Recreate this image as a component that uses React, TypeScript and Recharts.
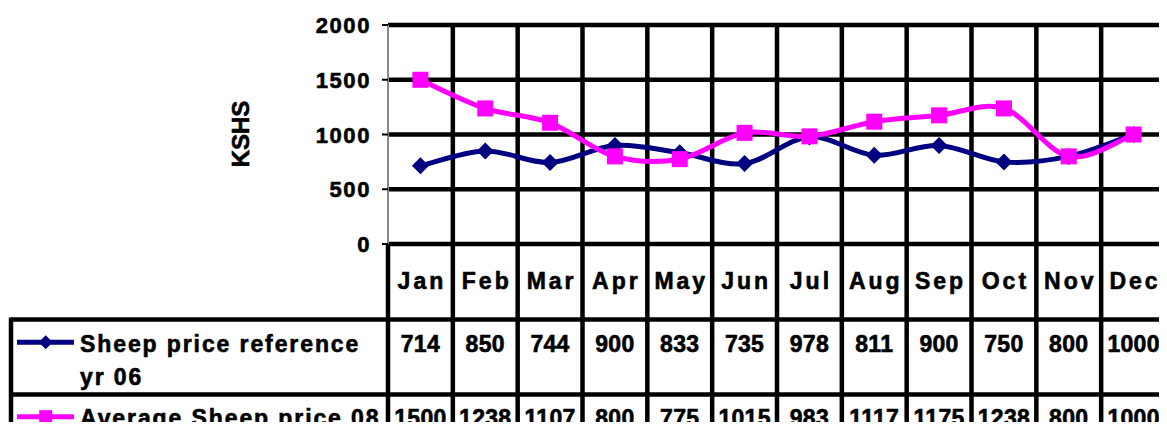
import React from "react";
import { LineChart, Line, XAxis, YAxis, CartesianGrid } from "recharts";

const months = ["Jan", "Feb", "Mar", "Apr", "May", "Jun", "Jul", "Aug", "Sep", "Oct", "Nov", "Dec"];
const sheepRef06 = [714, 850, 744, 900, 833, 735, 978, 811, 900, 750, 800, 1000];
const sheepAvg08 = [1500, 1238, 1107, 800, 775, 1015, 983, 1117, 1175, 1238, 800, 1000];
const yTicks = [0, 500, 1000, 1500, 2000];
const refNameLines = ["Sheep price reference", "yr 06"];
const avgName = "Average Sheep price 08";

const NAVY = "#000080";
const PINK = "#FF00FF";
const FONT = '"Liberation Sans", Arial, sans-serif';

const CHART_W = 1167;
const CHART_H = 430;
const Y_AXIS_W = 388;
const MARGIN_R = 1;
const PLOT_W = CHART_W - Y_AXIS_W - MARGIN_R;
const RULE = 4.5;

const data = months.map((m, i) => ({
  month: m,
  slot: i + 0.5,
  ref06: sheepRef06[i],
  avg08: sheepAvg08[i],
}));

// Excel-style smoothed line (Catmull-Rom through the points)
function excelCurve(context: any) {
  let pts: number[][] = [];
  return {
    areaStart() {},
    areaEnd() {},
    lineStart() {
      pts = [];
    },
    point(x: number, y: number) {
      pts.push([+x, +y]);
    },
    lineEnd() {
      if (!pts.length) return;
      context.moveTo(pts[0][0], pts[0][1]);
      for (let i = 0; i < pts.length - 1; i++) {
        const p0 = pts[i - 1] || pts[i];
        const p1 = pts[i];
        const p2 = pts[i + 1];
        const p3 = pts[i + 2] || p2;
        context.bezierCurveTo(
          p1[0] + (p2[0] - p0[0]) / 6,
          p1[1] + (p2[1] - p0[1]) / 6,
          p2[0] - (p3[0] - p1[0]) / 6,
          p2[1] - (p3[1] - p1[1]) / 6,
          p2[0],
          p2[1]
        );
      }
    },
  };
}

function Diamond({ cx, cy, r = 8.5 }: { cx: number; cy: number; r?: number }) {
  return <polygon points={`${cx},${cy - r} ${cx + r},${cy} ${cx},${cy + r} ${cx - r},${cy}`} fill={NAVY} />;
}

function Square({ cx, cy, s = 16 }: { cx: number; cy: number; s?: number }) {
  return <rect x={cx - s / 2} y={cy - s / 2} width={s} height={s} fill={PINK} />;
}

const renderDiamond = (p: any) => <Diamond key={`d-${p.index}`} cx={p.cx} cy={p.cy} />;
const renderSquare = (p: any) => <Square key={`s-${p.index}`} cx={p.cx} cy={p.cy} />;

// heavy Excel-like bold text
const textStyle = { fontFamily: FONT, fontWeight: 700 as const, fill: "#000", stroke: "#000", strokeWidth: 0.6 };

function YTick({ x, y, payload }: any) {
  return (
    <text x={x} y={y} dy={8} textAnchor="end" fontSize={22} style={{ ...textStyle, letterSpacing: 1.6 }}>
      {payload.value}
    </text>
  );
}

function LegendColumn({ left, y }: { left: number; y: number }) {
  const x0 = 11;
  return (
    <g>
      <line x1={x0} x2={left} y1={y + 75.5} y2={y + 75.5} stroke="#000" strokeWidth={RULE} />
      <line x1={x0} x2={left} y1={y + 150.5} y2={y + 150.5} stroke="#000" strokeWidth={RULE} />
      <line x1={x0} x2={x0} y1={y + 73.5} y2={y + 200} stroke="#000" strokeWidth={RULE} />
      <line x1={17} x2={74} y1={y + 98.3} y2={y + 98.3} stroke={NAVY} strokeWidth={5} />
      <Diamond cx={45.7} cy={y + 98.3} r={7} />
      <text x={80} y={y + 108} fontSize={23} style={{ ...textStyle, letterSpacing: 1.9 }}>
        {refNameLines[0]}
      </text>
      <text x={80} y={y + 141} fontSize={23} style={{ ...textStyle, letterSpacing: 1.9 }}>
        {refNameLines[1]}
      </text>
      <line x1={17} x2={74} y1={y + 172.7} y2={y + 172.7} stroke={PINK} strokeWidth={5} />
      <Square cx={45.7} cy={y + 172.7} s={13} />
      <text x={80} y={y + 181.5} fontSize={23} style={{ ...textStyle, letterSpacing: 1.9 }}>
        {avgName}
      </text>
      <text
        x={249}
        y={134}
        fontSize={24}
        textAnchor="middle"
        transform="rotate(-90 249 134)"
        style={textStyle}
      >
        KSHS
      </text>
    </g>
  );
}

function TableTick(props: any) {
  const { x, y, payload, width } = props;
  const i = Math.floor(payload.value);
  const colW = (typeof width === "number" && width > 0 ? width : PLOT_W) / months.length;
  const left = x - colW / 2;
  const right = x + colW / 2;
  const last = i === months.length - 1;
  return (
    <g>
      <line x1={left} x2={left} y1={y} y2={y + 200} stroke="#000" strokeWidth={RULE} />
      {last && <line x1={right - 1} x2={right - 1} y1={y} y2={y + 200} stroke="#888" strokeWidth={1.5} />}
      <line x1={left} x2={right} y1={y + 75.5} y2={y + 75.5} stroke="#000" strokeWidth={RULE} />
      <line x1={left} x2={right} y1={y + 150.5} y2={y + 150.5} stroke="#000" strokeWidth={RULE} />
      <text x={x + 1.5} y={y + 45} textAnchor="middle" fontSize={23} style={{ ...textStyle, letterSpacing: 3 }}>
        {months[i]}
      </text>
      <text x={x} y={y + 108} textAnchor="middle" fontSize={23} style={{ ...textStyle, letterSpacing: 0.3 }}>
        {sheepRef06[i]}
      </text>
      <text x={x} y={y + 181.5} textAnchor="middle" fontSize={23} style={{ ...textStyle, letterSpacing: 0.3 }}>
        {sheepAvg08[i]}
      </text>
      {i === 0 && <LegendColumn left={left} y={y} />}
    </g>
  );
}

export default function App() {
  const slots = data.map((d) => d.slot);
  const boundaries = months.slice(1).map((_, i) => i + 1);
  return (
    <div style={{ margin: -8, width: CHART_W, height: CHART_H, background: "#fff" }}>
      <LineChart width={CHART_W} height={CHART_H} data={data} margin={{ top: 25, right: MARGIN_R, bottom: 0, left: 0 }}>
        <CartesianGrid
          stroke="#000"
          strokeWidth={RULE}
          horizontal={true}
          vertical={true}
          verticalValues={boundaries}
          horizontalValues={yTicks}
        />
        <XAxis
          dataKey="slot"
          type="number"
          domain={[0, months.length]}
          ticks={slots}
          interval={0}
          height={186}
          tickSize={0}
          tickMargin={0}
          tickLine={false}
          axisLine={false}
          tick={<TableTick />}
        />
        <YAxis
          type="number"
          domain={[0, 2000]}
          ticks={yTicks}
          interval={0}
          width={Y_AXIS_W}
          tickSize={6}
          tickMargin={11}
          tickLine={{ stroke: "#000", strokeWidth: 2 }}
          axisLine={{ stroke: "#888", strokeWidth: 2 }}
          tick={<YTick />}
        />
        <Line
          dataKey="ref06"
          type={excelCurve as any}
          stroke={NAVY}
          strokeWidth={5}
          dot={renderDiamond}
          activeDot={false}
          isAnimationActive={false}
        />
        <Line
          dataKey="avg08"
          type={excelCurve as any}
          stroke={PINK}
          strokeWidth={5}
          dot={renderSquare}
          activeDot={false}
          isAnimationActive={false}
        />
      </LineChart>
    </div>
  );
}
